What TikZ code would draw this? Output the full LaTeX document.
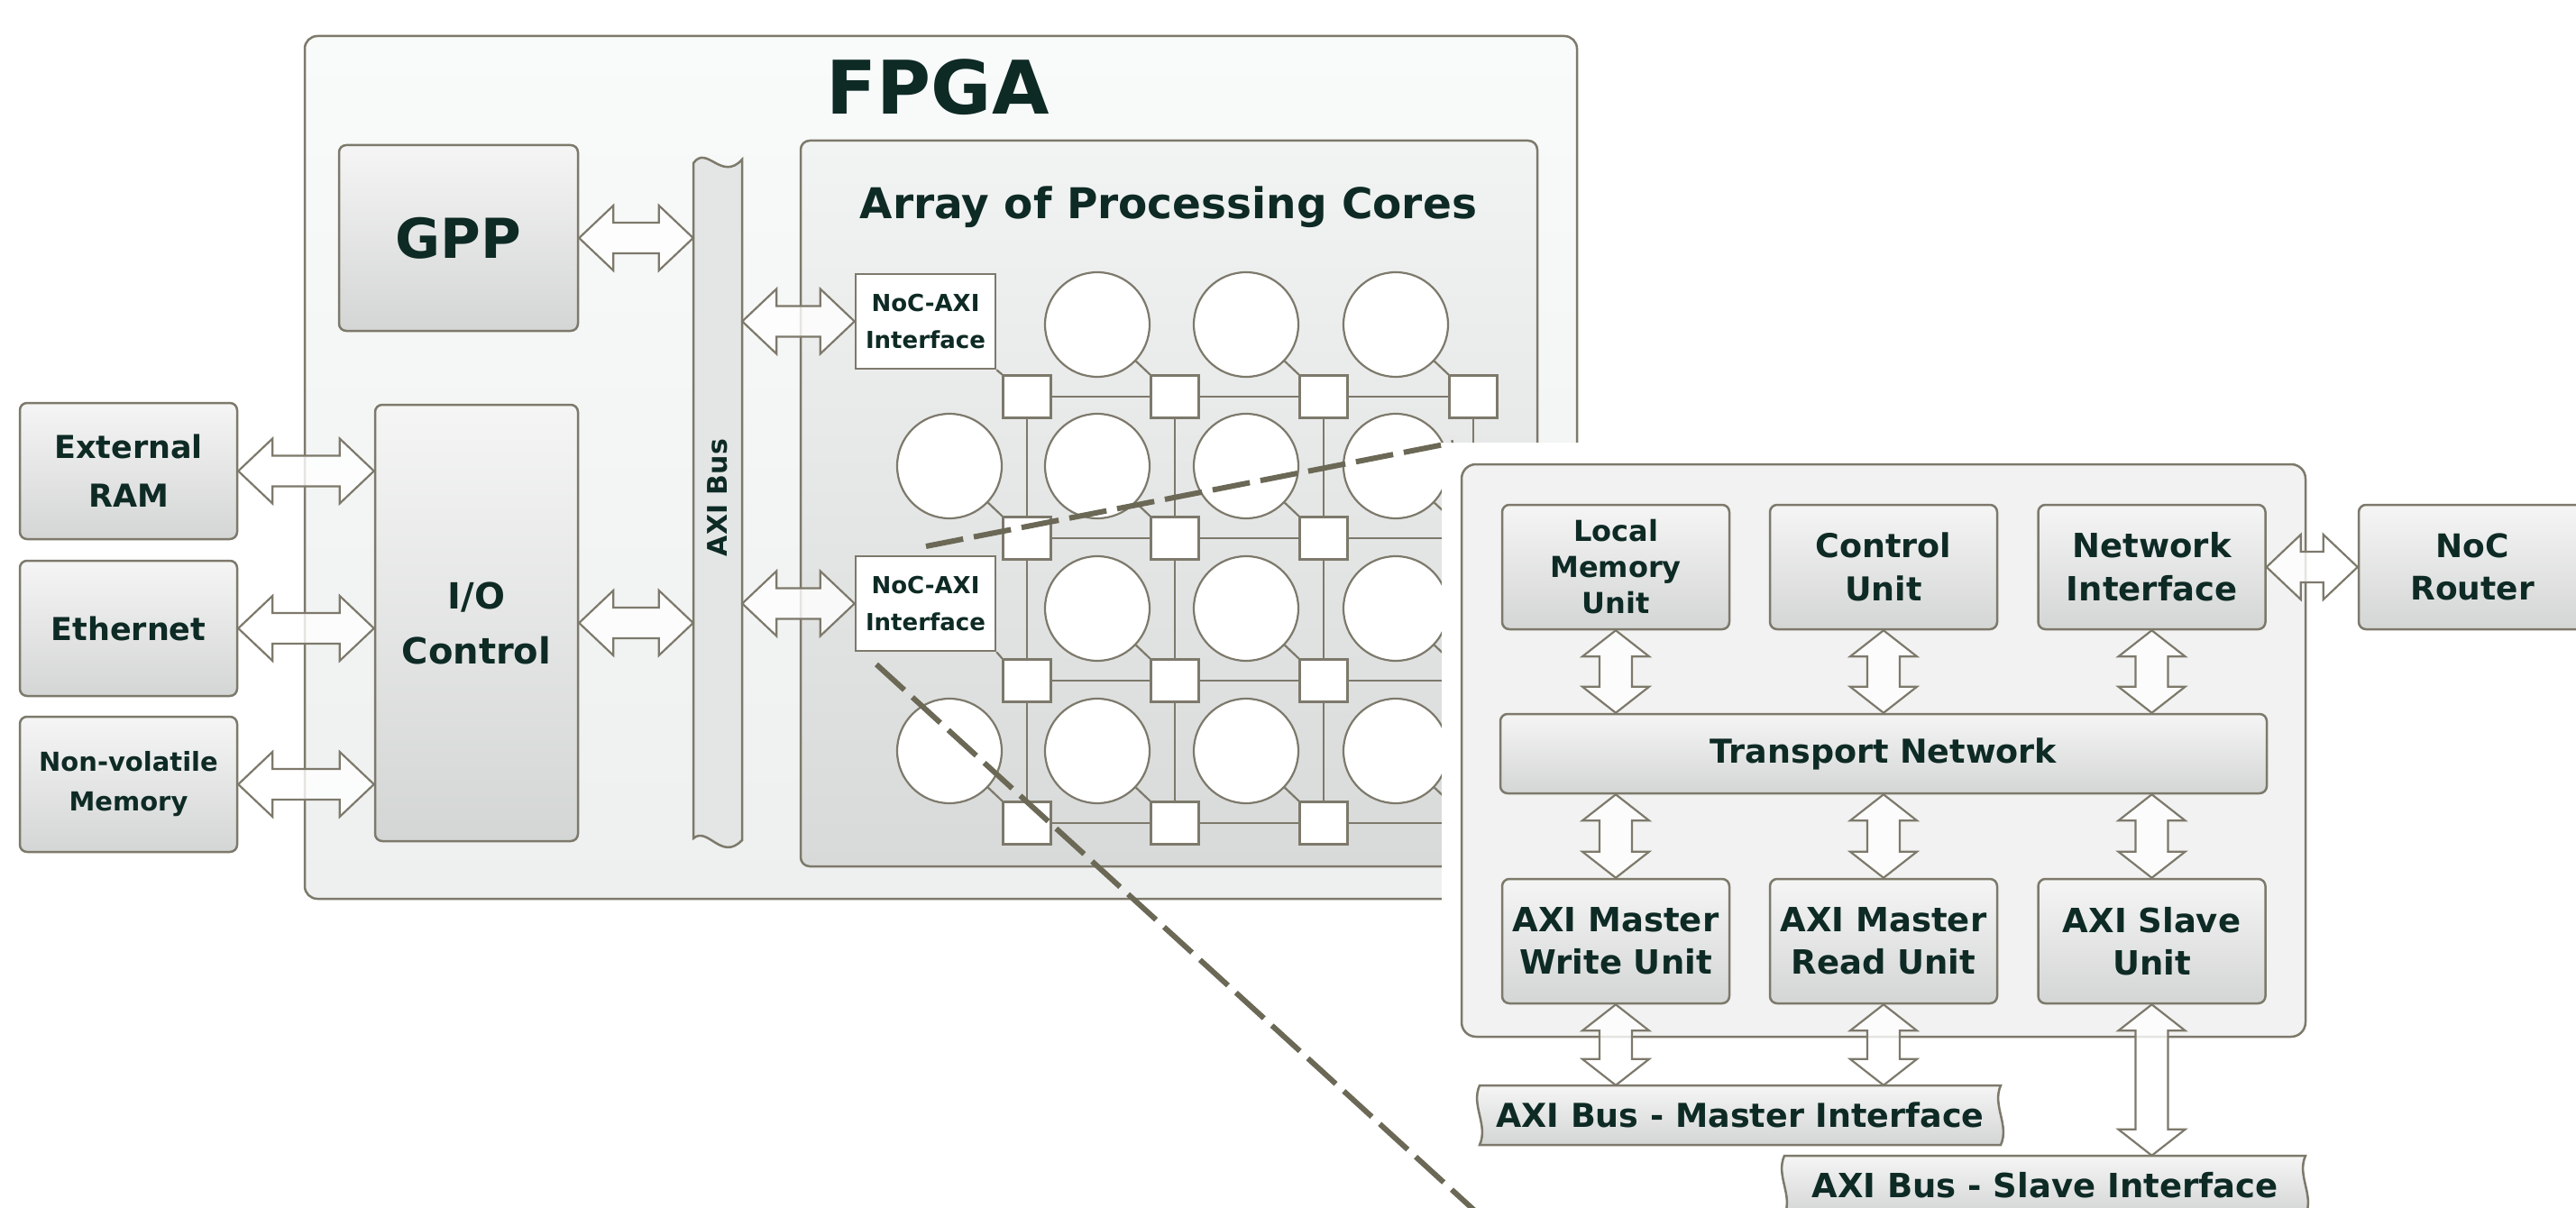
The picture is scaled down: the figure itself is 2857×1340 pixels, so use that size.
\documentclass[tikz,border=0pt]{standalone}
\usepackage{fontspec}
\setmainfont{DejaVu Sans}
\usetikzlibrary{calc}
\definecolor{bord}{HTML}{7D796B}
\definecolor{dashc}{HTML}{6B6856}
\definecolor{txt}{HTML}{0E2A25}
\definecolor{boxtop}{HTML}{F4F5F4}
\definecolor{boxbot}{HTML}{D4D6D5}
\definecolor{fpgatop}{HTML}{F9FAFA}
\definecolor{fpgabot}{HTML}{EEF0EF}
\definecolor{arrtop}{HTML}{F2F3F3}
\definecolor{arrbot}{HTML}{D8DAD9}
\definecolor{panelc}{HTML}{F1F2F1}
\definecolor{busc}{HTML}{E4E6E5}
\newcommand\fs[2]{\fontsize{#1}{#2}\selectfont}
\tikzset{
  outline/.style={draw=bord, line width=2.5pt},
  box/.style={outline, rounded corners=8pt, top color=boxtop, bottom color=boxbot,
    text=txt, align=center, inner sep=0pt},
  plainbox/.style={outline, fill=white, text=txt, align=center, inner sep=0pt},
  bigarrow/.style={draw=bord, line width=2.2pt, fill=white, fill opacity=0.8, line join=miter},
  router/.style={draw=bord, line width=2.2pt, fill=white, minimum width=53pt, minimum height=47pt, inner sep=0pt},
  core/.style={draw=bord, line width=2.2pt, fill=white, circle, minimum size=116pt, inner sep=0pt},
  link/.style={draw=bord, line width=2.2pt},
  zoomline/.style={draw=dashc, line width=6pt, dash pattern=on 42pt off 12pt},
  lbl/.style={text=txt, inner sep=0pt, align=center}
}
% double block arrow between two named points: A, B, head length, head half width, shaft half width
\newcommand\dblarrow[5]{%
  \filldraw[bigarrow] (#1)
    -- ($(#1)!#3!(#2)!#4!90:(#2)$)
    -- ($(#1)!#3!(#2)!#5!90:(#2)$)
    -- ($(#2)!#3!(#1)!#5!-90:(#1)$)
    -- ($(#2)!#3!(#1)!#4!-90:(#1)$)
    -- (#2)
    -- ($(#2)!#3!(#1)!#4!90:(#1)$)
    -- ($(#2)!#3!(#1)!#5!90:(#1)$)
    -- ($(#1)!#3!(#2)!#5!-90:(#2)$)
    -- ($(#1)!#3!(#2)!#4!-90:(#2)$)
    -- cycle;}
\begin{document}
\begin{tikzpicture}[x=1pt,y=-1pt]
\useasboundingbox (0,0) rectangle (2857,1340);
\fill[white] (0,0) rectangle (2857,1340);

% FPGA
\node[box, rounded corners=14pt, top color=fpgatop, bottom color=fpgabot,
  minimum width=1411pt, minimum height=957pt] (fpga) at (1043.5,518.5) {};
\node[lbl, anchor=base, font=\bfseries\fs{82}{90}] (fpgat) at (1040,127) {FPGA};

% left external boxes
\node[box, minimum width=241pt, minimum height=151pt, font=\bfseries\fs{35}{54}] (ext) at (142.5,522.5) {External\\RAM};
\node[box, minimum width=241pt, minimum height=150pt, font=\bfseries\fs{35}{54}] (eth) at (142.5,697) {Ethernet};
\node[box, minimum width=241pt, minimum height=150pt, font=\bfseries\fs{29}{44}] (nvm) at (142.5,870) {Non-volatile\\Memory};

% GPP, I/O
\node[box, minimum width=265pt, minimum height=206pt, font=\bfseries\fs{61}{70}] (gpp) at (508.5,264) {GPP};
\node[box, minimum width=225pt, minimum height=484pt, font=\bfseries\fs{40}{61}] (io) at (528.5,691) {I/O\\Control};

% AXI bus
\node[minimum width=54pt, minimum height=756pt, inner sep=0pt] (axi) at (796,555) {};
\filldraw[outline, fill=busc] (769,181) .. controls (784,160) and (800,202) .. (823,177)
  -- (823,932) .. controls (800,956) and (785,916) .. (769,930) -- cycle;
\node[lbl, rotate=90, font=\bfseries\fs{30}{36}] (axit) at (796,552) {AXI Bus};

% Array of processing cores
\node[box, rounded corners=10pt, top color=arrtop, bottom color=arrbot,
  minimum width=817pt, minimum height=805pt] (arr) at (1296.5,558.5) {};
\node[lbl, anchor=base, font=\bfseries\fs{47}{56}] (arrt) at (1296,243) {Array of Processing Cores};

\node[plainbox, minimum width=155pt, minimum height=105pt, font=\bfseries\fs{26}{41}] (na1) at (1026.5,356.5) {NoC-AXI\\Interface};
\node[plainbox, minimum width=155pt, minimum height=105pt, font=\bfseries\fs{26}{41}] (na2) at (1026.5,669.5) {NoC-AXI\\Interface};

% routers
\foreach \i/\y in {1/440,2/597,3/755,4/913}{
  \foreach \j/\x in {1/1139,2/1303,3/1468,4/1634}{
    \node[router] (r\i\j) at (\x,\y) {};
  }
}
\foreach \i in {1,2,3,4}{
  \draw[link] (r\i1) -- (r\i2) -- (r\i3) -- (r\i4);
}
\foreach \j in {1,2,3,4}{
  \draw[link] (r1\j) -- (r2\j) -- (r3\j) -- (r4\j);
}
% cores
\foreach \i/\y/\cols in {1/440/{2/1303,3/1468,4/1634},2/597/{1/1139,2/1303,3/1468,4/1634},3/755/{2/1303,3/1468,4/1634},4/913/{1/1139,2/1303,3/1468,4/1634}}{
  \foreach \j/\x in \cols {
    \node[core] (c\i\j) at (\x-86,\y-80) {};
    \draw[link] (c\i\j) -- (r\i\j.north west);
  }
}
\draw[link] (na1.south east) -- (r11.north west);
\draw[link] (na2.south east) -- (r31.north west);

% arrows on the FPGA
\coordinate (ea) at (ext.east -| io.west);
\coordinate (eb) at (eth.east -| io.west);
\coordinate (ec) at (nvm.east -| io.west);
\coordinate (ia) at (io.east -| axi.west);
\coordinate (ga) at (gpp.east -| axi.west);
\coordinate (x1) at (axi.east |- na1.west);
\coordinate (x2) at (axi.east |- na2.west);
\coordinate (ee) at (ext.east);
\coordinate (he) at (eth.east);
\coordinate (ne) at (nvm.east);
\coordinate (ie) at (io.east);
\coordinate (ge) at (gpp.east);
\coordinate (n1) at (na1.west);
\coordinate (n2) at (na2.west);
\dblarrow{ee}{ea}{38pt}{36pt}{17pt}
\dblarrow{he}{eb}{38pt}{36pt}{17pt}
\dblarrow{ne}{ec}{38pt}{36pt}{17pt}
\dblarrow{ie}{ia}{38pt}{36pt}{17pt}
\dblarrow{ge}{ga}{38pt}{36pt}{17pt}
\dblarrow{x1}{n1}{38pt}{36pt}{17pt}
\dblarrow{x2}{n2}{38pt}{36pt}{17pt}

% zoom lines
\coordinate (z1a) at (1027,606);
\coordinate (z1b) at (1612,491);
\coordinate (z2a) at (972,737);
\coordinate (z2b) at (1640,1347);
\draw[zoomline] (z1a) -- (z1b);
\draw[zoomline] (z2a) -- (z2b);

% detail panel
\fill[white] (1599,491) rectangle (2580,1172);
\node[outline, rounded corners=16pt, fill=panelc, minimum width=936pt, minimum height=635pt] (panel) at (2089,832.5) {};

\node[box, minimum width=252pt, minimum height=138pt, font=\bfseries\fs{32}{40}] (lmu) at (1792,629) {Local\\Memory\\Unit};
\node[box, minimum width=252pt, minimum height=138pt, font=\bfseries\fs{36.5}{48}] (cu) at (2089,629) {Control\\Unit};
\node[box, minimum width=252pt, minimum height=138pt, font=\bfseries\fs{37}{48}] (ni) at (2386.5,629) {Network\\Interface};
\node[box, minimum width=850pt, minimum height=88pt, font=\bfseries\fs{36.5}{44}] (tn) at (2089,836) {Transport Network};
\node[box, minimum width=252pt, minimum height=138pt, font=\bfseries\fs{37}{47}] (amw) at (1792,1044) {AXI Master\\Write Unit};
\node[box, minimum width=252pt, minimum height=138pt, font=\bfseries\fs{37}{47}] (amr) at (2089,1044) {AXI Master\\Read Unit};
\node[box, minimum width=252pt, minimum height=138pt, font=\bfseries\fs{37}{47}] (asu) at (2386.5,1044) {AXI Slave\\Unit};
\node[box, minimum width=252pt, minimum height=138pt, font=\bfseries\fs{36}{47}] (noc) at (2742,629) {NoC\\Router};

% banners
\filldraw[outline, top color=boxtop, bottom color=boxbot] (1641,1204) -- (2219,1204)
  .. controls (2209,1226) and (2229,1248) .. (2219,1270) -- (1641,1270)
  .. controls (1651,1248) and (1631,1226) .. (1641,1204) -- cycle;
\node[lbl, minimum width=578pt, minimum height=66pt, font=\bfseries\fs{36.5}{44}] (mbus) at (1930,1237) {AXI Bus - Master Interface};
\filldraw[outline, top color=boxtop, bottom color=boxbot] (1979,1282) -- (2557,1282)
  .. controls (2547,1304) and (2567,1326) .. (2557,1348) -- (1979,1348)
  .. controls (1989,1326) and (1969,1304) .. (1979,1282) -- cycle;
\node[lbl, minimum width=578pt, minimum height=66pt, font=\bfseries\fs{37}{44}] (sbus) at (2268,1315) {AXI Bus - Slave Interface};

% panel arrows
\foreach \u in {lmu,cu,ni}{
  \coordinate (\u-s) at (\u.south);
  \coordinate (\u-t) at (\u.south |- tn.north);
  \dblarrow{\u-s}{\u-t}{29pt}{37pt}{18pt}
}
\foreach \u in {amw,amr,asu}{
  \coordinate (\u-n) at (\u.north);
  \coordinate (\u-t) at (\u.north |- tn.south);
  \dblarrow{\u-t}{\u-n}{29pt}{37pt}{18pt}
}
\coordinate (amw-s) at (amw.south);
\coordinate (amw-b) at (amw.south |- mbus.north);
\coordinate (amr-s) at (amr.south);
\coordinate (amr-b) at (amr.south |- mbus.north);
\coordinate (asu-s) at (asu.south);
\coordinate (asu-b) at (asu.south |- sbus.north);
\dblarrow{amw-s}{amw-b}{29pt}{37pt}{18pt}
\dblarrow{amr-s}{amr-b}{29pt}{37pt}{18pt}
\dblarrow{asu-s}{asu-b}{29pt}{37pt}{18pt}
\coordinate (ni-e) at (ni.east);
\coordinate (noc-w) at (noc.west);
\dblarrow{ni-e}{noc-w}{38pt}{36pt}{17pt}
\end{tikzpicture}
\end{document}
